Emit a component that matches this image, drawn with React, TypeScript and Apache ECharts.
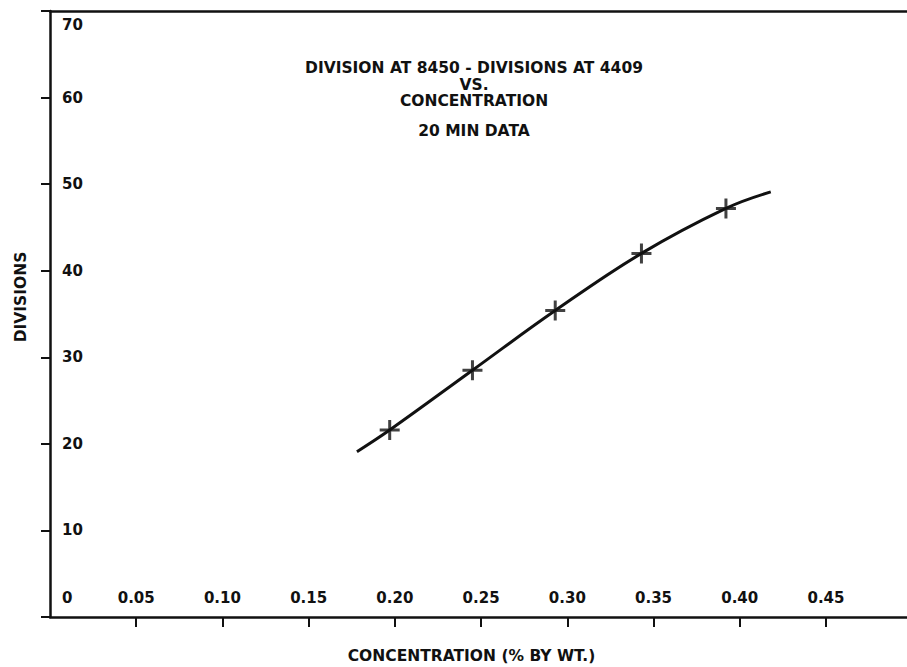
import React, { useEffect, useRef } from "react";
import * as echarts from "echarts";

// Axis tick labels
const xTickValues = [0.05, 0.1, 0.15, 0.2, 0.25, 0.3, 0.35, 0.4, 0.45];
const yTickValues = [0, 10, 20, 30, 40, 50, 60, 70];

// Plotted points (+ markers)
const markerConc = [0.197, 0.245, 0.293, 0.343, 0.392];
const markerDiv = [21.6, 28.5, 35.4, 42.0, 47.2];

// Hand-drawn curve
const curveConc = [0.178, 0.197, 0.245, 0.293, 0.343, 0.392, 0.418];
const curveDiv = [19.1, 21.6, 28.5, 35.4, 42.0, 47.2, 49.1];

const titleLines = ["DIVISION AT 8450 - DIVISIONS AT 4409", "VS.", "CONCENTRATION"];
const subTitle = "20 MIN DATA";
const xName = "CONCENTRATION (% BY WT.)";
const yName = "DIVISIONS";

const FONT = "DejaVu Sans";
const INK = "#111";

export default function App() {
  const ref = useRef<HTMLDivElement>(null);

  useEffect(() => {
    document.body.style.margin = "0";
    if (!ref.current) return;
    const chart = echarts.init(ref.current, undefined, { renderer: "svg" });
    const textBase = { fontFamily: FONT, fontWeight: "bold" as const, color: INK };
    const X_MAX = 0.497;

    chart.setOption({
      animation: false,
      backgroundColor: "#fff",
      title: {
        text: titleLines.join("\n"),
        subtext: subTitle,
        left: 474,
        top: 60,
        padding: 0,
        textAlign: "center",
        itemGap: 13,
        textStyle: { ...textBase, fontSize: 15.5, lineHeight: 16.5 },
        subtextStyle: { ...textBase, fontSize: 15.5, lineHeight: 16.5 },
      },
      grid: { left: 50, right: 0, top: 11, bottom: 50, containLabel: false },
      xAxis: [
        {
          type: "value",
          position: "bottom",
          min: 0,
          max: X_MAX,
          interval: 0.05,
          splitLine: { show: false },
          axisLine: { show: true, lineStyle: { color: INK, width: 2.5 } },
          axisTick: {
            show: true,
            inside: false,
            length: 10,
            customValues: xTickValues,
            lineStyle: { color: INK, width: 2 },
          },
          axisLabel: {
            show: true,
            inside: true,
            margin: 12,
            customValues: xTickValues,
            ...textBase,
            fontSize: 15,
            formatter: (v: number) =>
              v > 0.001 && Math.abs(v / 0.05 - Math.round(v / 0.05)) < 1e-6 ? v.toFixed(2) : "",
          },
        },
        {
          type: "value",
          position: "top",
          min: 0,
          max: X_MAX,
          splitLine: { show: false },
          axisLine: { show: true, lineStyle: { color: INK, width: 2.5 } },
          axisTick: { show: false },
          axisLabel: { show: false },
        },
      ],
      yAxis: {
        type: "value",
        min: 0,
        max: 70,
        interval: 10,
        splitLine: { show: false },
        axisLine: { show: true, lineStyle: { color: INK, width: 2.5 } },
        axisTick: {
          show: true,
          inside: false,
          length: 9,
          customValues: yTickValues,
          lineStyle: { color: INK, width: 2 },
        },
        axisLabel: {
          show: true,
          inside: true,
          margin: 12,
          customValues: yTickValues,
          ...textBase,
          fontSize: 15,
          formatter: (v: number) => {
            if (v === 0) return "{b|0}";
            if (v === 70) return "{t|70}";
            return String(v);
          },
          rich: {
            b: { ...textBase, fontSize: 15, padding: [0, 0, 38, 0] },
            t: { ...textBase, fontSize: 15, padding: [27, 0, 0, 0] },
          },
        },
      },
      graphic: [
        {
          type: "text",
          x: 20.5,
          y: 297,
          rotation: Math.PI / 2,
          style: {
            text: yName,
            fontFamily: FONT,
            fontWeight: "bold",
            fontSize: 15.5,
            fill: INK,
            align: "center",
            verticalAlign: "middle",
          },
        },
        {
          type: "text",
          x: 471.5,
          y: 656,
          style: {
            text: xName,
            fontFamily: FONT,
            fontWeight: "bold",
            fontSize: 15.5,
            fill: INK,
            align: "center",
            verticalAlign: "middle",
          },
        },
      ],
      series: [
        {
          type: "line",
          name: "curve",
          data: curveConc.map((c, i) => [c, curveDiv[i]]),
          smooth: 0.4,
          showSymbol: false,
          symbol: "none",
          lineStyle: { color: INK, width: 3 },
          silent: true,
        },
        {
          type: "scatter",
          name: "data",
          data: markerConc.map((c, i) => [c, markerDiv[i]]),
          symbol: "path://M-1.5,-10H1.5V-1.5H10V1.5H1.5V10H-1.5V1.5H-10V-1.5H-1.5Z",
          symbolSize: 20,
          itemStyle: { color: INK },
          z: 3,
        },
      ],
    });

    return () => chart.dispose();
  }, []);

  return (
    <div
      ref={ref}
      style={{ position: "absolute", left: 0, top: 0, width: 907, height: 667, background: "#fff" }}
    />
  );
}
